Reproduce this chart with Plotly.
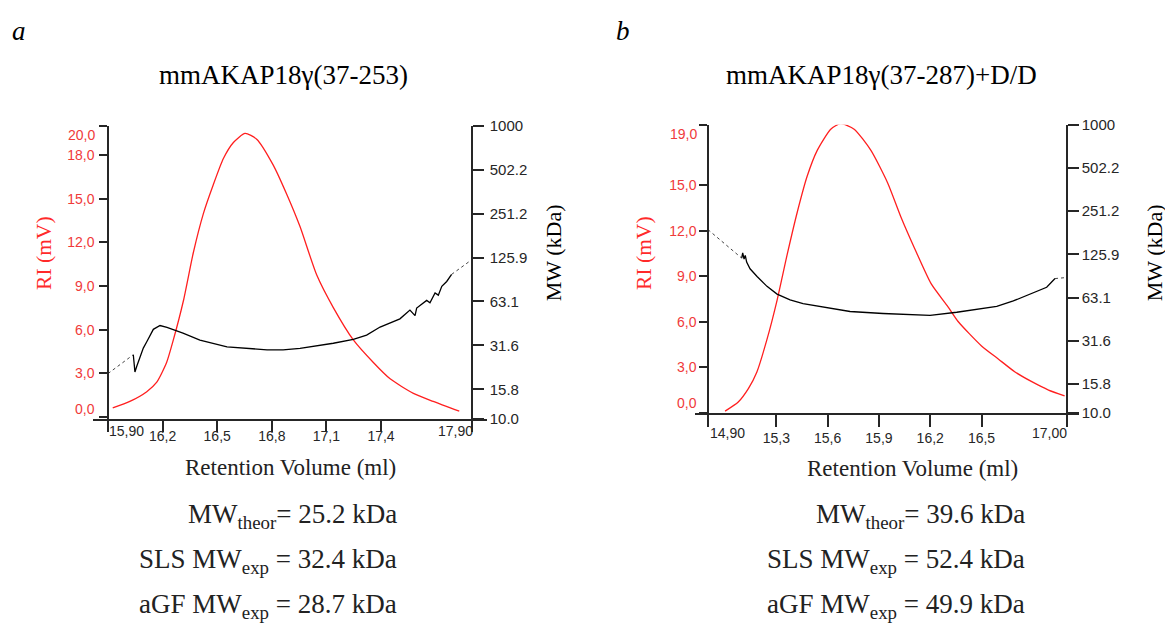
import plotly.graph_objects as go

W, H = 1165, 628

# ---------------- data ----------------
# panel a : mmAKAP18γ(37-253)
a_ri_x = [15.926, 16.02, 16.113, 16.168, 16.222, 16.259, 16.314, 16.369, 16.424, 16.479,
          16.534, 16.589, 16.653, 16.717, 16.808, 16.882, 16.955, 17.047, 17.138, 17.248,
          17.358, 17.45, 17.578, 17.687, 17.83]
a_ri_y = [0.63, 1.08, 1.75, 2.4, 3.75, 5.3, 7.97, 11.3, 13.97, 15.97,
          17.75, 18.85, 19.48, 19.08, 17.3, 15.3, 13.08, 9.75, 7.52, 5.3,
          3.75, 2.63, 1.63, 1.08, 0.41]
a_mw_x = [16.039, 16.048, 16.058, 16.076, 16.094, 16.113, 16.131, 16.149, 16.186, 16.224,
          16.312, 16.405, 16.554, 16.774, 16.862, 16.955, 17.138, 17.248, 17.321, 17.395,
          17.504, 17.559, 17.587, 17.596, 17.651, 17.669, 17.697, 17.715, 17.734, 17.761, 17.788]
a_mw_y = [27.3, 20.8, 22.8, 26.6, 30.3, 33.5, 37.2, 40.7, 43.2, 42.0,
          38.3, 34.4, 30.9, 29.5, 29.5, 30.2, 32.7, 34.8, 37.2, 42.2,
          48.0, 55.1, 50.5, 56.9, 64.2, 61.9, 72.2, 69.7, 80.0, 86.4, 96.6]
a_ext_left_x, a_ext_left_y = [15.90, 16.039], [20.3, 27.3]
a_ext_right_x, a_ext_right_y = [17.788, 17.90], [96.6, 122.0]

# panel b : mmAKAP18γ(37-287)+D/D
b_ri_x = [15.0, 15.077, 15.137, 15.186, 15.245, 15.304, 15.363, 15.422, 15.48, 15.539,
          15.618, 15.676, 15.755, 15.853, 15.951, 16.029, 16.108, 16.206, 16.304, 16.363,
          16.5, 16.598, 16.696, 16.794, 16.892, 16.986]
b_ri_y = [0.11, 0.71, 1.61, 2.69, 4.84, 7.42, 10.43, 13.23, 15.6, 17.31,
          18.71, 19.08, 18.71, 17.31, 15.16, 12.9, 10.86, 8.5, 6.99, 6.02,
          4.41, 3.55, 2.69, 2.05, 1.5, 1.12]
b_mw_x = [15.097, 15.103, 15.111, 15.118, 15.126, 15.146, 15.187, 15.245, 15.304, 15.38,
          15.456, 15.596, 15.731, 15.924, 16.199, 16.355, 16.491, 16.589, 16.686, 16.784,
          16.881, 16.93]
b_mw_y = [118.6, 128.8, 116.9, 123.8, 111.4, 100.0, 88.3, 75.5, 66.7, 60.8,
          57.2, 53.7, 50.5, 48.9, 47.4, 49.9, 52.6, 54.8, 59.8, 67.0,
          74.4, 85.5]
b_ext_left_x, b_ext_left_y = [14.90, 15.097], [187.0, 118.6]
b_ext_right_x, b_ext_right_y = [16.93, 17.0], [85.5, 87.0]

# tick labels
a_xticks = [16.2, 16.5, 16.8, 17.1, 17.4]
a_xtext = ["16,2", "16,5", "16,8", "17,1", "17,4"]
a_xends = [15.9, 17.9]
a_xend = ["15,90", "17,90"]
b_xticks = [15.3, 15.6, 15.9, 16.2, 16.5]
b_xtext = ["15,3", "15,6", "15,9", "16,2", "16,5"]
b_xends = [14.9, 17.0]
b_xend = ["14,90", "17,00"]
a_riticks = [3, 6, 9, 12, 15, 18]
a_ritext = ["3,0", "6,0", "9,0", "12,0", "15,0", "18,0"]
a_riends = [0, 20]
a_riend = ["0,0", "20,0"]
b_riticks = [3, 6, 9, 12, 15]
b_ritext = ["3,0", "6,0", "9,0", "12,0", "15,0"]
b_riends = [0, 19]
b_riend = ["0,0", "19,0"]
mw_ticks = [10, 15.85, 31.62, 63.1, 125.9, 251.2, 501.2, 1000]
mw_text = ["10.0", "15.8", "31.6", "63.1", "125.9", "251.2", "502.2", "1000"]

titles = ["mmAKAP18γ(37-253)", "mmAKAP18γ(37-287)+D/D"]
a_lines = ["MW<sub>theor</sub>= 25.2 kDa", "SLS MW<sub>exp</sub> = 32.4 kDa", "aGF MW<sub>exp</sub> = 28.7 kDa"]
b_lines = ["MW<sub>theor</sub>= 39.6 kDa", "SLS MW<sub>exp</sub> = 52.4 kDa", "aGF MW<sub>exp</sub> = 49.9 kDa"]

# ---------------- styling ----------------
RED = "#ff1f1f"
REDTXT = "#f03a3a"
AX = "#262626"
SANS = "Liberation Sans, Arial, sans-serif"
SERIF = "Liberation Serif, Times New Roman, serif"


def px(x):
    return x / W


def py(y):
    return 1 - y / H


fig = go.Figure()

# panel a traces
fig.add_trace(go.Scatter(x=a_ri_x, y=a_ri_y, mode="lines", line=dict(color=RED, width=1.3, shape="spline", smoothing=0.6),
                         xaxis="x", yaxis="y", showlegend=False))
fig.add_trace(go.Scatter(x=a_mw_x, y=a_mw_y, mode="lines", line=dict(color="black", width=1.3),
                         xaxis="x", yaxis="y2", showlegend=False))
for xs, ys in [(a_ext_left_x, a_ext_left_y), (a_ext_right_x, a_ext_right_y)]:
    fig.add_trace(go.Scatter(x=xs, y=ys, mode="lines", line=dict(color="#444", width=1, dash="dot"),
                             xaxis="x", yaxis="y2", showlegend=False))
# panel b traces
fig.add_trace(go.Scatter(x=b_ri_x, y=b_ri_y, mode="lines", line=dict(color=RED, width=1.3, shape="spline", smoothing=0.6),
                         xaxis="x2", yaxis="y3", showlegend=False))
fig.add_trace(go.Scatter(x=b_mw_x, y=b_mw_y, mode="lines", line=dict(color="black", width=1.3),
                         xaxis="x2", yaxis="y4", showlegend=False))
for xs, ys in [(b_ext_left_x, b_ext_left_y), (b_ext_right_x, b_ext_right_y)]:
    fig.add_trace(go.Scatter(x=xs, y=ys, mode="lines", line=dict(color="#444", width=1, dash="dot"),
                             xaxis="x2", yaxis="y4", showlegend=False))

# geometry (pixels)
A = dict(l=108, r=472, t=120, b=421, xl=93, xr=487)
B = dict(l=708, r=1067, t=119, b=415, xl=695, xr=1079)


def xrange_for(g, lo, hi):
    ppu = (g["r"] - g["l"]) / (hi - lo)
    return [lo - (g["l"] - g["xl"]) / ppu, hi + (g["xr"] - g["r"]) / ppu]


def minor(vals, ln):
    return dict(tickmode="array", tickvals=vals, ticks="outside", ticklen=ln, tickwidth=1.5, tickcolor=AX,
                showgrid=False)


common_x = dict(showline=True, linecolor=AX, linewidth=1.5, ticks="outside", ticklen=12, tickwidth=1.5,
                tickcolor=AX, showgrid=False, zeroline=False, tickfont=dict(family=SANS, size=14, color=AX))
common_y = dict(showline=True, linecolor=AX, linewidth=1.5, ticks="outside", tickwidth=1.5, tickcolor=AX,
                showgrid=False, zeroline=False)

fig.update_layout(
    width=W, height=H, margin=dict(l=0, r=0, t=0, b=0), paper_bgcolor="white", plot_bgcolor="white",
    xaxis=dict(domain=[px(A["xl"]), px(A["xr"])], range=xrange_for(A, 15.9, 17.9), anchor="y",
               tickvals=a_xticks, ticktext=a_xtext, minor=minor(a_xends, 12), ticklabelstandoff=-8, **common_x),
    yaxis=dict(domain=[py(A["b"]), py(A["t"])], range=[-0.1, 20.0], anchor="free", position=px(A["l"]),
               side="left", tickvals=a_riticks, ticktext=a_ritext, ticklen=8, minor=minor(a_riends, 8),
               ticklabelstandoff=2, tickfont=dict(family=SANS, size=14, color=REDTXT), **common_y),
    yaxis2=dict(overlaying="y", type="log", range=[1, 3], anchor="free", position=px(A["r"]), side="right",
                tickvals=mw_ticks, ticktext=mw_text, ticklen=11,
                tickfont=dict(family=SANS, size=15, color=AX), ticklabelstandoff=3, **common_y),
    xaxis2=dict(domain=[px(B["xl"]), px(B["xr"])], range=xrange_for(B, 14.9, 17.0), anchor="y3",
                tickvals=b_xticks, ticktext=b_xtext, minor=minor(b_xends, 12), ticklabelstandoff=0, **common_x),
    yaxis3=dict(domain=[py(B["b"]), py(B["t"])], range=[0, 19.0], anchor="free", position=px(B["l"]),
                side="left", tickvals=b_riticks, ticktext=b_ritext, ticklen=8, minor=minor(b_riends, 8),
                tickfont=dict(family=SANS, size=14, color=REDTXT), **common_y),
    yaxis4=dict(overlaying="y3", type="log", range=[1, 3], anchor="free", position=px(B["r"]), side="right",
                tickvals=mw_ticks, ticktext=mw_text, ticklen=11,
                tickfont=dict(family=SANS, size=15, color=AX), **common_y),
)

ann = []


def note(text, x, y, size, color="black", family=SERIF, xanchor="center", yanchor="middle", angle=0):
    ann.append(dict(text=text, x=px(x), y=py(y), xref="paper", yref="paper", showarrow=False,
                    font=dict(family=family, size=size, color=color), xanchor=xanchor, yanchor=yanchor,
                    textangle=angle))


# panel letters
note("<i>a</i>", 19, 22.6, 27)
note("<i>b</i>", 623, 22.6, 27)
# titles
note(titles[0], 283.5, 67.5, 27)
note(titles[1], 881.5, 67.5, 27)
# axis titles
note("RI (mV)", 44, 251.7, 21.5, color="#ff2a2a", angle=-90)
note("MW (kDa)", 553, 251, 22, angle=-90)
note("RI (mV)", 644, 251.7, 21.5, color="#ff2a2a", angle=-90)
note("MW (kDa)", 1154, 251, 22, angle=-90)
note("Retention Volume (ml)", 290, 471.5, 23, color="#222")
note("Retention Volume (ml)", 912, 472, 23, color="#222")
# end tick labels (Igor style, shifted inside)
note(a_xend[0], A["l"] - 1, 423.6, 14, color=AX, family=SANS, xanchor="left", yanchor="top")
note(a_xend[1], A["r"] + 3, 423.6, 14, color=AX, family=SANS, xanchor="right", yanchor="top")
note(b_xend[0], B["l"], 425.3, 14, color=AX, family=SANS, xanchor="left", yanchor="top")
note(b_xend[1], B["r"] + 2, 425.3, 14, color=AX, family=SANS, xanchor="right", yanchor="top")
note(a_riend[0], 97, 410.7, 14, color=REDTXT, family=SANS, xanchor="right")
note(a_riend[1], 97, 129, 14, color=REDTXT, family=SANS, xanchor="right")
note(b_riend[0], 699, 405, 14, color=REDTXT, family=SANS, xanchor="right")
note(b_riend[1], 699, 128, 14, color=REDTXT, family=SANS, xanchor="right")
# result lines
for yy, la, lb in zip([521.1, 567.8, 613.8], a_lines, b_lines):
    note(la, 399.3, yy, 27, color="#222", xanchor="right")
    note(lb, 1027, yy, 27, color="#222", xanchor="right")

fig.update_layout(annotations=ann)
fig.write_html("out.html", post_script="document.body.style.margin='0px';", config={"displayModeBar": False})
